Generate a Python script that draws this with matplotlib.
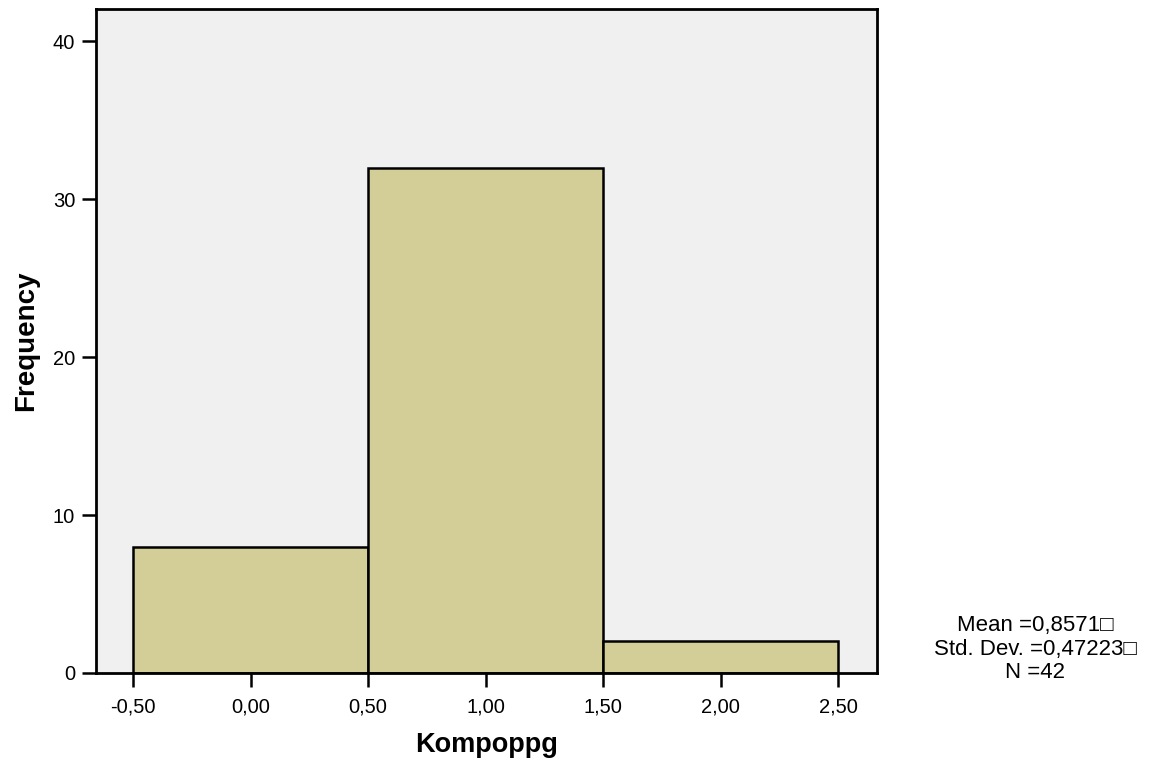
import matplotlib.pyplot as plt
import numpy as np

plt.rcParams['font.family'] = ['Liberation Sans', 'DejaVu Sans']

# histogram bins and counts for Kompoppg
bin_edges = [-0.5, 0.5, 1.5, 2.5]
counts = [8, 32, 2]
x_ticks = [-0.5, 0.0, 0.5, 1.0, 1.5, 2.0, 2.5]
x_tick_labels = ['-0,50', '0,00', '0,50', '1,00', '1,50', '2,00', '2,50']
y_ticks = [0, 10, 20, 30, 40]
stats_lines = ['Mean =0,8571\u25a1', 'Std. Dev. =0,47223\u25a1', 'N =42']

fig = plt.figure(figsize=(11.51, 7.70), dpi=100)
ax = fig.add_axes([96 / 1151, 1 - 673 / 770, (877 - 96) / 1151, (673 - 9) / 770])
ax.set_facecolor('#f0f0f0')

lefts = np.array(bin_edges[:-1])
widths = np.diff(bin_edges)
ax.bar(lefts, counts, width=widths, align='edge', color='#d3ce98',
       edgecolor='black', linewidth=1.8, zorder=2)

ax.set_xlim(-0.658, 2.666)
ax.set_ylim(0, 42.05)
ax.set_xticks(x_ticks)
ax.set_xticklabels(x_tick_labels)
ax.set_yticks(y_ticks)
ax.tick_params(axis='both', length=10, width=1.8, labelsize=14.5)
ax.tick_params(axis='x', pad=7.5)
ax.tick_params(axis='y', pad=5)
for s in ax.spines.values():
    s.set_linewidth(2)

ax.set_xlabel('Kompoppg', fontsize=19.5, fontweight='bold', labelpad=11)
ax.set_ylabel('Frequency', fontsize=20, fontweight='bold', labelpad=10)

# summary statistics block to the right of the plot
for i, line in enumerate(stats_lines):
    fig.text(1035 / 1151, 1 - (626 + i * 23) / 770, line, ha='center', va='center',
             fontsize=16)

fig.savefig('out.png', dpi=100)
